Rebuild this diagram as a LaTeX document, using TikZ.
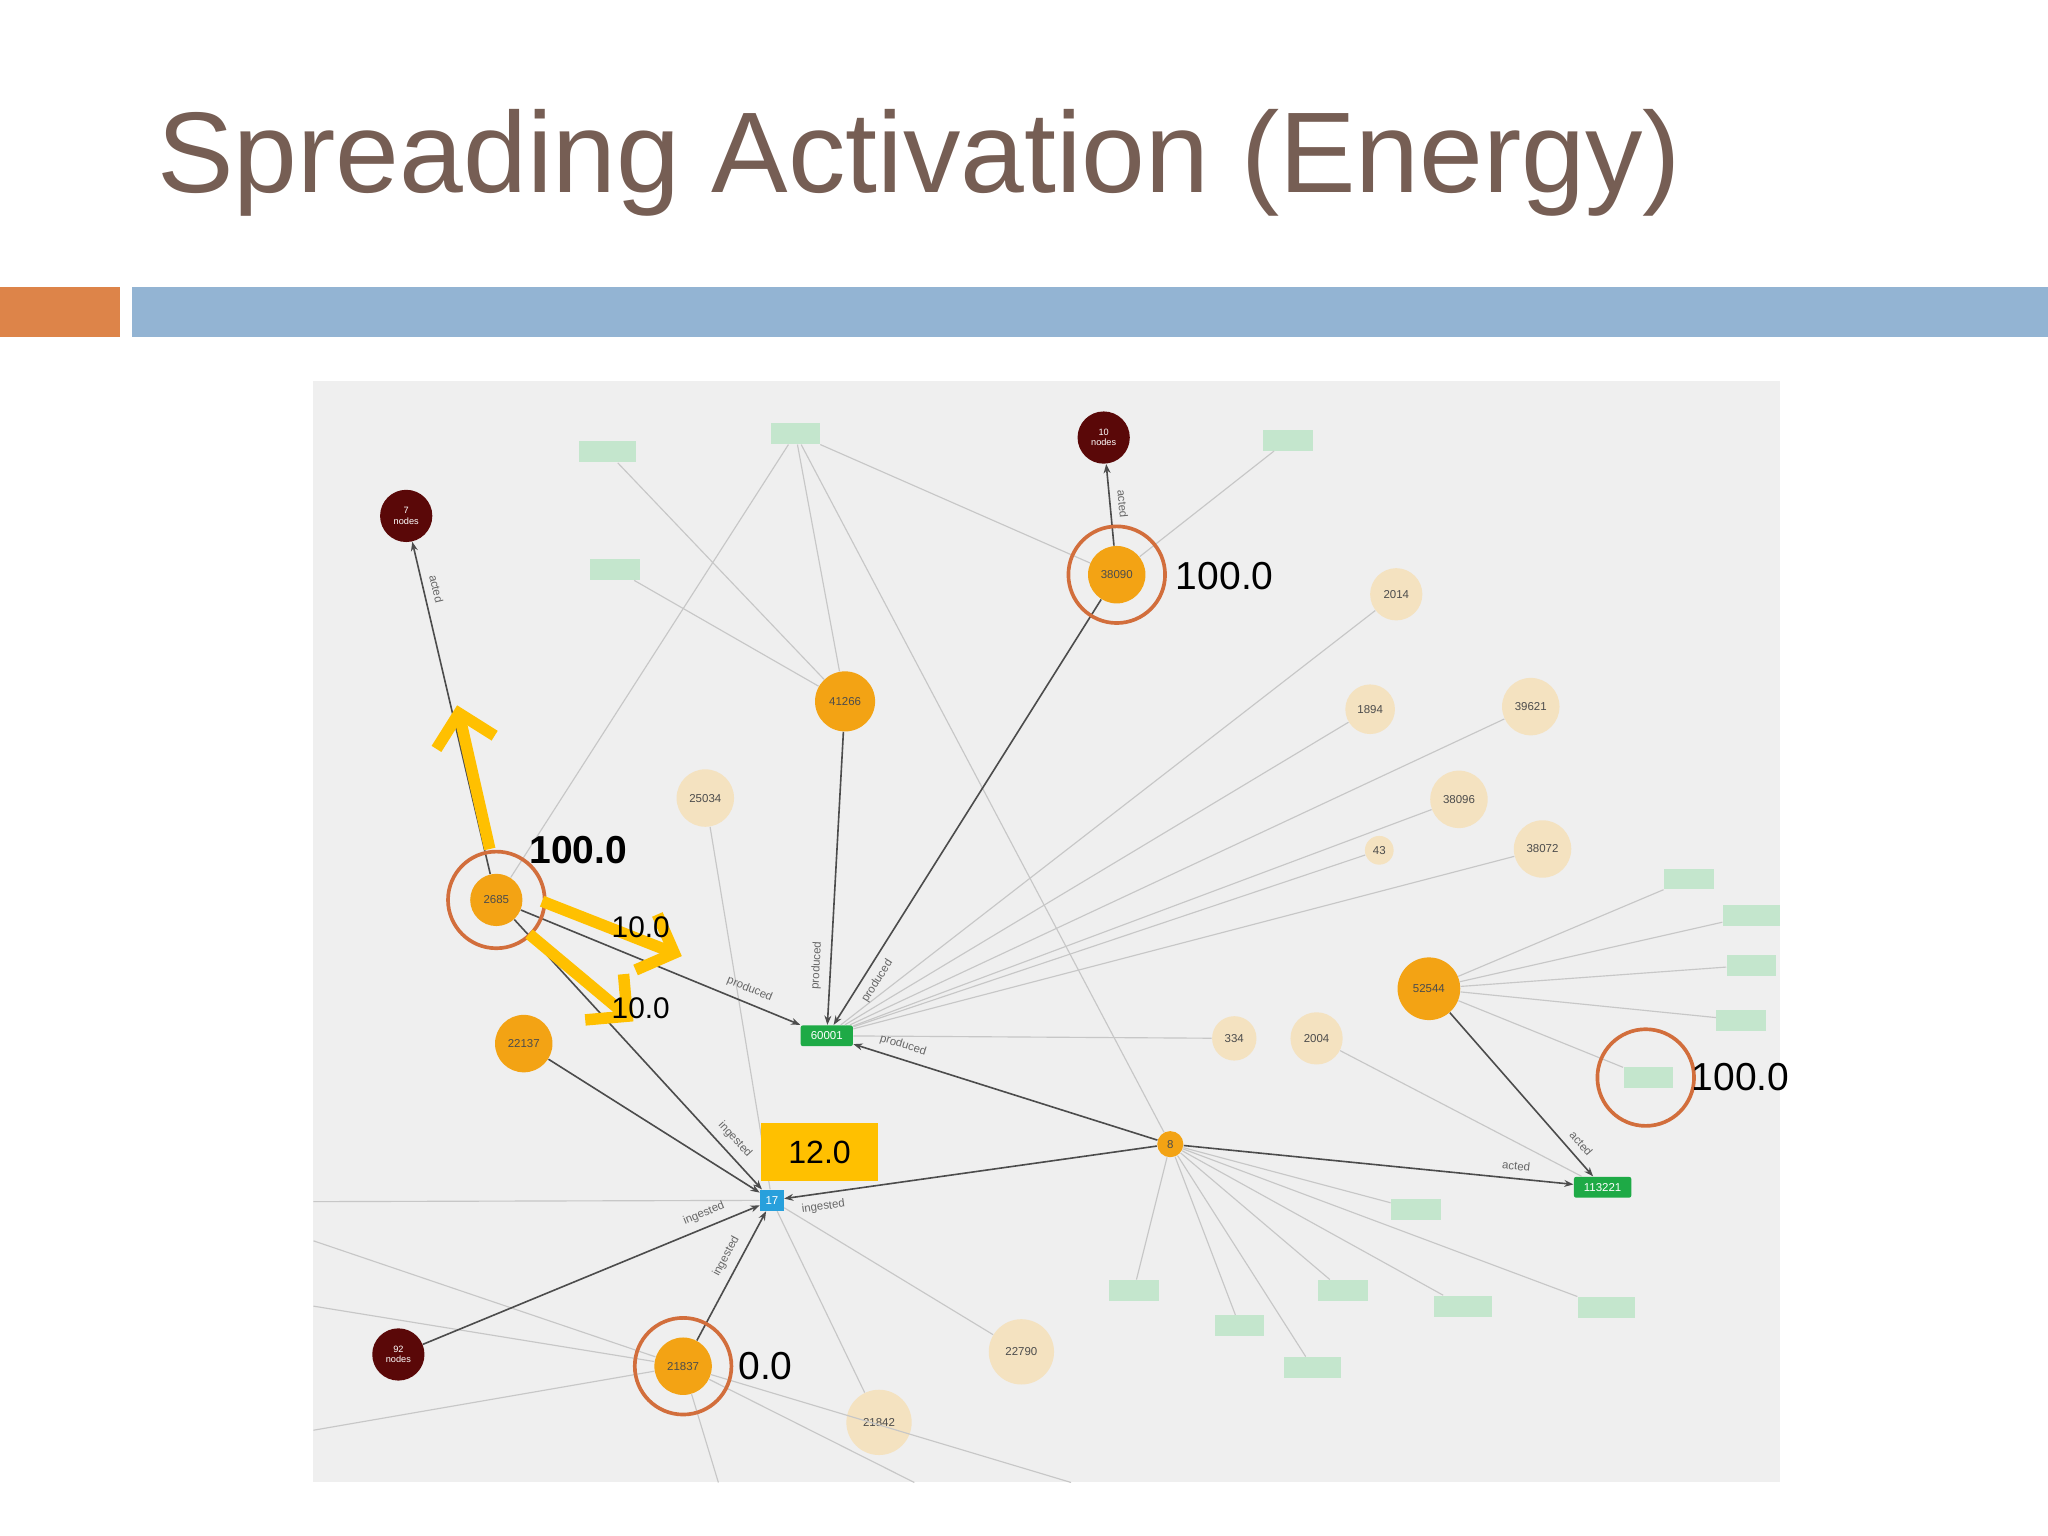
\documentclass[tikz,border=0pt]{standalone}
\usepackage{fontspec}
\setmainfont{Liberation Sans}
\usetikzlibrary{arrows.meta}
\definecolor{titlec}{RGB}{118,94,84}
\definecolor{barO}{RGB}{221,132,73}
\definecolor{barB}{RGB}{147,180,211}
\definecolor{bgc}{RGB}{239,239,239}
\definecolor{orn}{RGB}{243,163,20}
\definecolor{pale}{RGB}{244,226,192}
\definecolor{dred}{RGB}{90,8,8}
\definecolor{pgreen}{RGB}{196,230,205}
\definecolor{dgreen}{RGB}{30,170,70}
\definecolor{blu}{RGB}{40,160,220}
\definecolor{yel}{RGB}{255,192,0}
\definecolor{ring}{RGB}{210,110,60}
\newlength{\pxu}\setlength{\pxu}{0.02cm}
\tikzset{
 tiny/.style={font=\fontsize{5}{6}\selectfont},
 onode/.style={circle,fill=orn,minimum size=44\pxu,inner sep=0,tiny,text=black!70},
 pnode/.style={circle,fill=pale,minimum size=44\pxu,inner sep=0,tiny,text=black!70},
 dnode/.style={circle,fill=dred,minimum size=40\pxu,inner sep=0,tiny,text=white,align=center,font=\fontsize{4}{4.5}\selectfont},
 gbox/.style={rectangle,fill=pgreen,minimum width=44\pxu,minimum height=16\pxu,inner sep=0},
 dbox/.style={rectangle,rounded corners=1pt,fill=dgreen,minimum width=40\pxu,minimum height=16\pxu,inner sep=0,tiny,text=white},
 le/.style={draw=black!22,line width=0.5pt},
 de/.style={draw=black!70,line width=0.7pt,-{Stealth[length=4pt]}},
 el/.style={tiny,sloped,text=black!60,fill=none},
 ring/.style={draw=ring,line width=1.6pt,circle,minimum size=74\pxu,inner sep=0},
 yarr/.style={draw=yel,line width=5pt,-{Straight Barb[length=13pt,width=26pt,line width=5pt]}},
 val/.style={font=\fontsize{17}{19}\selectfont,anchor=west,inner sep=0},
}
\begin{document}
\begin{tikzpicture}[x=0.02cm,y=-0.02cm]
\useasboundingbox (0,0) rectangle (1568,1176);
\fill[white] (0,0) rectangle (1568,1176);
\node[anchor=west,text=titlec,font=\fontsize{50}{52}\selectfont,inner sep=0] (title) at (120,125) {Spreading Activation (Energy)};
\fill[barO] (0,220) rectangle (92,258);
\fill[barB] (101,220) rectangle (1568,258);
\fill[bgc] (240,292) rectangle (1363,1135);
\begin{scope}
\clip (240,292) rectangle (1363,1135);
\node[dnode] (n7) at (311,395) {7\\nodes};
\node[dnode] (n10) at (845,335) {10\\nodes};
\node[dnode] (n92) at (305,1037) {92\\nodes};
\node[onode] (a38090) at (855,440) {38090};
\node[onode,minimum size=46\pxu] (a41266) at (647,537) {41266};
\node[pnode] (a25034) at (540,611) {25034};
\node[onode,minimum size=40\pxu] (a2685) at (380,689) {2685};
\node[onode] (a22137) at (401,799) {22137};
\node[onode] (a21837) at (523,1046) {21837};
\node[pnode,minimum size=50\pxu] (a22790) at (782,1035) {22790};
\node[pnode,minimum size=50\pxu] (a21842) at (673,1089) {21842};
\node[pnode,minimum size=40\pxu] (a2014) at (1069,455) {2014};
\node[pnode,minimum size=38\pxu] (a1894) at (1049,543) {1894};
\node[pnode] (a39621) at (1172,541) {39621};
\node[pnode] (a38096) at (1117,612) {38096};
\node[pnode,minimum size=22\pxu] (a43) at (1056,651) {43};
\node[pnode] (a38072) at (1181,650) {38072};
\node[pnode,minimum size=34\pxu] (a334) at (945,795) {334};
\node[pnode,minimum size=40\pxu] (a2004) at (1008,795) {2004};
\node[onode,minimum size=48\pxu] (a52544) at (1094,757) {52544};
\node[onode,minimum size=20\pxu] (a8) at (896,876) {8};
\node[dbox] (b60001) at (633,793) {60001};
\node[rectangle,fill=blu,minimum width=18\pxu,minimum height=16\pxu,inner sep=0,tiny,text=white] (b17) at (591,919) {17};
\node[dbox,minimum width=44\pxu] (b113221) at (1227,909) {113221};
\node[gbox] (g1) at (465,346) {};
\node[gbox,minimum width=38\pxu] (g2) at (609,332) {};
\node[gbox,minimum width=38\pxu] (g3) at (471,436) {};
\node[gbox,minimum width=38\pxu] (g4) at (986,337) {};
\node[gbox,minimum width=38\pxu] (g5) at (1293,673) {};
\node[gbox] (g6) at (1341,701) {};
\node[gbox,minimum width=38\pxu] (g7) at (1341,739) {};
\node[gbox,minimum width=38\pxu] (g8) at (1333,781) {};
\node[gbox,minimum width=38\pxu] (g9) at (1262,825) {};
\node[gbox,minimum width=38\pxu] (g10) at (1084,926) {};
\node[gbox,minimum width=38\pxu] (g11) at (868,988) {};
\node[gbox,minimum width=38\pxu] (g12) at (949,1015) {};
\node[gbox,minimum width=38\pxu] (g13) at (1028,988) {};
\node[gbox] (g14) at (1120,1000) {};
\node[gbox] (g15) at (1230,1001) {};
\node[gbox] (g16) at (1005,1047) {};
\coordinate (o1) at (240,950);
\coordinate (o2) at (240,1000);
\coordinate (o3) at (240,1095);
\coordinate (o4) at (550,1135);
\coordinate (o5) at (700,1135);
\coordinate (o6) at (820,1135);
\coordinate (o7) at (240,920);
\foreach \s/\t in {a41266/g1,a41266/g2,a41266/g3,a38090/g2,a38090/g4,a2685/g2,a8/g2,a25034/b17,a2004/b113221,
 a2014/b60001,a1894/b60001,a39621/b60001,a38096/b60001,a43/b60001,a38072/b60001,a334/b60001,
 a52544/g5,a52544/g6,a52544/g7,a52544/g8,a52544/g9,
 a8/g10,a8/g11,a8/g12,a8/g13,a8/g14,a8/g15,a8/g16,
 b17/a22790,b17/a21842,a21837/o1,a21837/o2,a21837/o3,a21837/o4,a21837/o5,a21837/o6,b17/o7}
  \draw[le] (\s) -- (\t);
\draw[de] (a2685) -- node[el,above,pos=0.85]{acted} (n7);
\draw[de] (a38090) -- node[el,above]{acted} (n10);
\draw[de] (a41266) -- node[el,above,pos=0.8]{produced} (b60001);
\draw[de] (a38090) -- node[el,below,pos=0.88]{produced} (b60001);
\draw[de] (a2685) -- node[el,above,pos=0.8]{produced} (b60001);
\draw[de] (a8) -- node[el,above,pos=0.85]{produced} (b60001);
\draw[de] (a2685) -- node[el,above,pos=0.85]{ingested} (b17);
\draw[de] (a22137) -- (b17);
\draw[de] (n92) -- node[el,above,pos=0.85]{ingested} (b17);
\draw[de] (a21837) -- node[el,above,pos=0.6]{ingested} (b17);
\draw[de] (a8) -- node[el,below,pos=0.9]{ingested} (b17);
\draw[de] (a8) -- node[el,above,pos=0.85]{acted} (b113221);
\draw[de] (a52544) -- node[el,above,pos=0.85]{acted} (b113221);
\end{scope}
\node[ring] (r1) at (a38090) {};
\node[ring] (r2) at (a2685) {};
\node[ring] (r3) at (a21837) {};
\node[ring] (r4) at (1260,825) {};
\coordinate (y0) at (375,650); \coordinate (y1) at (350,540);
\coordinate (y2) at (415,690); \coordinate (y3) at (522,732);
\coordinate (y4) at (405,715); \coordinate (y5) at (485,782);
\draw[yarr] (y0) -- (y1);
\draw[yarr] (y2) -- (y3);
\draw[yarr] (y4) -- (y5);
\node[val,font=\bfseries\fontsize{17}{19}\selectfont] (v1) at (405,651) {100.0};
\node[val] (v2) at (900,441) {100.0};
\node[val,font=\fontsize{13}{14}\selectfont] (v3) at (468,710) {10.0};
\node[val,font=\fontsize{13}{14}\selectfont] (v4) at (468,772) {10.0};
\node[val] (v5) at (565,1046) {0.0};
\node[val] (v6) at (1295,825) {100.0};
\node[fill=yel,minimum width=89\pxu,minimum height=44\pxu,inner sep=0,font=\fontsize{14}{16}\selectfont] (y12) at (627.5,882) {12.0};
\end{tikzpicture}
\end{document}
